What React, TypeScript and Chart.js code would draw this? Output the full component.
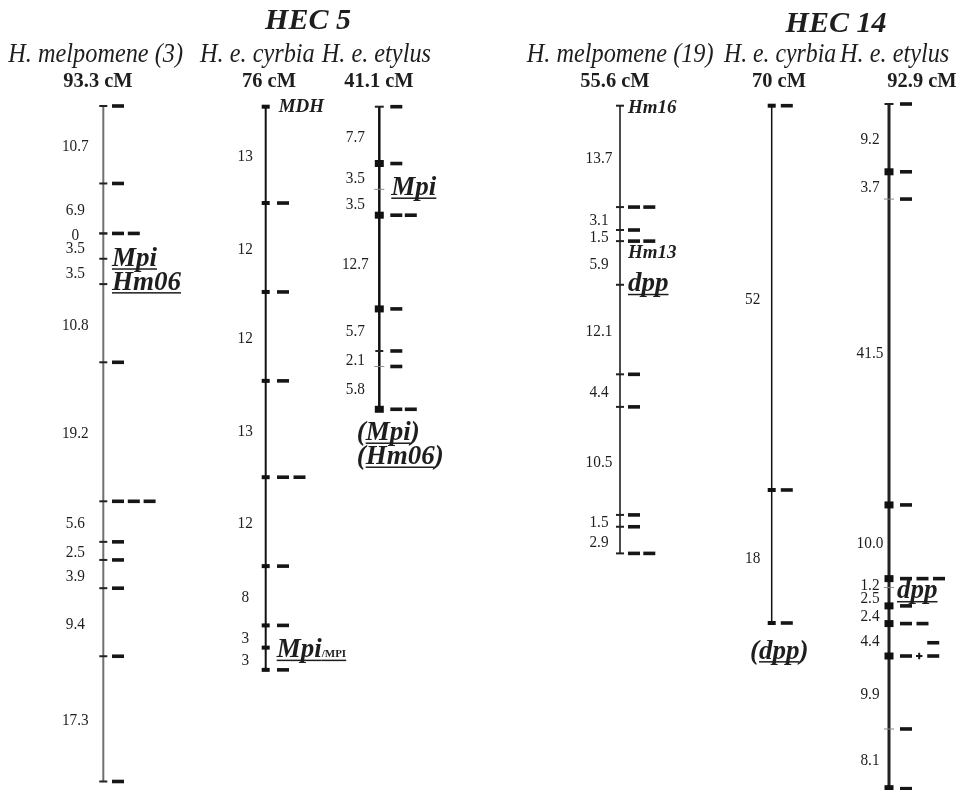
import React, { useEffect, useRef } from "react";
import { Chart, registerables } from "chart.js";

Chart.register(...registerables);

const CW = 965;
const CH = 790;
const SERIF = '"Liberation Serif", "Times New Roman", serif';

// ---------------- Data ----------------
const groupTitles = ["HEC 5", "HEC 14"];
const speciesNames = ["H. melpomene (3)", "H. e. cyrbia", "H. e. etylus", "H. melpomene (19)", "H. e. cyrbia", "H. e. etylus"];
const mapLengths = ["93.3 cM", "76 cM", "41.1 cM", "55.6 cM", "70 cM", "92.9 cM"];

// HEC 5 — H. melpomene (3)
const mel3Pos = [0, 10.7, 17.6, 17.6, 21.1, 24.6, 35.4, 54.6, 60.2, 62.7, 66.6, 76.0, 93.3];
const mel3Gaps = ["10.7", "6.9", "0", "3.5", "3.5", "10.8", "19.2", "5.6", "2.5", "3.9", "9.4", "17.3"];
const mel3Dashes = [1, 1, 2, 0, 0, 0, 1, 3, 1, 1, 1, 1, 1];
const mel3Nodes = ["tick", "tick", "tick", "tick", "tick", "tick", "tick", "tick", "tick", "tick", "tick", "tick", "tick"];

// HEC 5 — H. e. cyrbia
const cyr5Pos = [0, 13, 25, 37, 50, 62, 70, 73, 76];
const cyr5Gaps = ["13", "12", "12", "13", "12", "8", "3", "3"];
const cyr5Dashes = [0, 1, 1, 1, 2, 1, 1, 0, 1];
const cyr5Nodes = ["sq", "sq", "sq", "sq", "sq", "sq", "sq", "sq", "sq"];

// HEC 5 — H. e. etylus
const ety5Pos = [0, 7.7, 11.2, 14.7, 27.4, 33.1, 35.2, 41.0];
const ety5Gaps = ["7.7", "3.5", "3.5", "12.7", "5.7", "2.1", "5.8"];
const ety5Dashes = [1, 1, 0, 2, 1, 1, 1, 2];
const ety5Nodes = ["cap", "SQ", "thin", "SQ", "SQ", "tick", "thin", "SQ"];

// HEC 14 — H. melpomene (19) (marker positions as drawn)
const mel19Pos = [0, 13.7, 16.8, 18.3, 24.2, 36.3, 40.7, 55.3, 56.9, 60.5];
const mel19Gaps = ["13.7", "3.1", "1.5", "5.9", "12.1", "4.4", "10.5", "1.5", "2.9"];
const mel19Dashes = [0, 2, 1, 2, 0, 1, 1, 1, 1, 2];
const mel19Nodes = ["tick", "tick", "tick", "tick", "tick", "tick", "tick", "tick", "tick", "tick"];

// HEC 14 — H. e. cyrbia
const cyr14Pos = [0, 52, 70];
const cyr14Gaps = ["52", "18"];
const cyr14Dashes = [1, 1, 1];
const cyr14Nodes = ["sq", "sq", "sq"];

// HEC 14 — H. e. etylus
const ety14Pos = [0, 9.2, 12.9, 54.4, 64.4, 65.6, 68.1, 70.5, 74.9, 84.8, 92.9];
const ety14Gaps = ["9.2", "3.7", "41.5", "10.0", "1.2", "2.5", "2.4", "4.4", "9.9", "8.1"];
const ety14Dashes = [1, 1, 1, 1, 3, 0, 1, 2, 1, 1, 1];
const ety14Nodes = ["cap", "SQ", "thin", "SQ", "SQ", "thin", "SQ", "SQ", "SQ", "thin", "SQ"];
const ety14Extra = [
  { cM: 74.9, slot: 0.8, kind: "plus" },
  { cM: 74.9, slot: 1.65, kind: "dash" },
  { cM: 73.1, slot: 1.65, kind: "dash" },
];

// ---------------- Styles / layout ----------------
const BIG = `bold italic 27px ${SERIF}`;
const MID = `bold italic 19px ${SERIF}`;
const SMALL = `bold 11px ${SERIF}`;

const NODE: Record<string, { r: number; w: number; c: string }> = {
  tick: { r: 4, w: 2, c: "#222" },
  cap: { r: 4.5, w: 2, c: "#222" },
  thin: { r: 5, w: 1, c: "#8a8a8a" },
  sq: { r: 4, w: 4, c: "#111" },
  SQ: { r: 4.5, w: 7, c: "#111" },
};

type Part = { text: string; font: string; ul?: boolean };
type Name = { at: number; parts: Part[]; dx: number; dy: number };

const chroms = [
  {
    pos: mel3Pos, gaps: mel3Gaps, dashes: mel3Dashes, nodes: mel3Nodes,
    x: 103.3, top: 106.0, pxPerCM: 7.24, line: "#707070", lw: 2, gapX: 28, dash0: 14.7, pitch: 15.8,
    names: [
      { at: 4, parts: [{ text: "Mpi", font: BIG, ul: true }], dx: 8.7, dy: 7 },
      { at: 5, parts: [{ text: "Hm06", font: BIG, ul: true }], dx: 8.7, dy: 5.5 },
    ] as Name[],
    extra: [] as any[],
  },
  {
    pos: cyr5Pos, gaps: cyr5Gaps, dashes: cyr5Dashes, nodes: cyr5Nodes,
    x: 265.7, top: 106.7, pxPerCM: 7.41, line: "#111", lw: 2, gapX: 20.5, dash0: 17.3, pitch: 16.5,
    names: [
      { at: 0, parts: [{ text: "MDH", font: MID }], dx: 13, dy: 5 },
      { at: 7, parts: [{ text: "Mpi", font: BIG, ul: true }, { text: "/MPI", font: SMALL, ul: true }], dx: 11, dy: 9.5 },
    ] as Name[],
    extra: [] as any[],
  },
  {
    pos: ety5Pos, gaps: ety5Gaps, dashes: ety5Dashes, nodes: ety5Nodes,
    x: 379.3, top: 106.7, pxPerCM: 7.38, line: "#111", lw: 2.5, gapX: 24, dash0: 17, pitch: 14.5,
    names: [
      { at: 2, parts: [{ text: "Mpi", font: BIG, ul: true }], dx: 12, dy: 5.6 },
      { at: 7, parts: [{ text: "(", font: BIG }, { text: "Mpi", font: BIG, ul: true }, { text: ")", font: BIG }], dx: -22.6, dy: 30.7 },
      { at: 7, parts: [{ text: "(", font: BIG }, { text: "Hm06", font: BIG, ul: true }, { text: ")", font: BIG }], dx: -22.6, dy: 54.7 },
    ] as Name[],
    extra: [] as any[],
  },
  {
    pos: mel19Pos, gaps: mel19Gaps, dashes: mel19Dashes, nodes: mel19Nodes,
    x: 620, top: 105.7, pxPerCM: 7.4, line: "#111", lw: 1.5, gapX: 21, dash0: 14, pitch: 15.3,
    names: [
      { at: 0, parts: [{ text: "Hm16", font: MID }], dx: 8, dy: 7.5 },
      { at: 3, parts: [{ text: "Hm13", font: MID }], dx: 8, dy: 17 },
      { at: 4, parts: [{ text: "dpp", font: BIG, ul: true }], dx: 8, dy: 6.5 },
    ] as Name[],
    extra: [] as any[],
  },
  {
    pos: cyr14Pos, gaps: cyr14Gaps, dashes: cyr14Dashes, nodes: cyr14Nodes,
    x: 771.7, top: 105.7, pxPerCM: 7.39, line: "#111", lw: 1.5, gapX: 19, dash0: 15.1, pitch: 16,
    names: [
      { at: 2, parts: [{ text: "(", font: BIG }, { text: "dpp", font: BIG, ul: true }, { text: ")", font: BIG }], dx: -21.7, dy: 35.6 },
    ] as Name[],
    extra: [] as any[],
  },
  {
    pos: ety14Pos, gaps: ety14Gaps, dashes: ety14Dashes, nodes: ety14Nodes,
    x: 889, top: 104.0, pxPerCM: 7.37, line: "#222", lw: 3, gapX: 19, dash0: 17, pitch: 16.5,
    names: [
      { at: 5, parts: [{ text: "dpp", font: BIG, ul: true }], dx: 8, dy: 11 },
    ] as Name[],
    extra: ety14Extra,
  },
];

const titleX = [308, 836];
const titleY = [29, 32];
const speciesX = [8.3, 200, 321.7, 526.7, 724, 840];
const speciesSX = [0.9, 0.9, 0.9, 0.9, 0.88, 0.9];
const speciesY = 62;
const lenX = [98, 269, 379, 615, 779, 922];
const lenY = 87;

function scaledText(ctx: CanvasRenderingContext2D, s: string, x: number, y: number, font: string, align: CanvasTextAlign, sx: number, baseline: CanvasTextBaseline = "alphabetic") {
  ctx.save();
  ctx.font = font;
  ctx.textAlign = align;
  ctx.textBaseline = baseline;
  ctx.translate(x, y);
  ctx.scale(sx, 1);
  ctx.fillText(s, 0, 0);
  ctx.restore();
}

function drawParts(ctx: CanvasRenderingContext2D, parts: Part[], x: number, y: number) {
  let cx = x;
  ctx.textAlign = "left";
  ctx.textBaseline = "alphabetic";
  for (const p of parts) {
    ctx.font = p.font;
    ctx.fillText(p.text, cx, y);
    const w = ctx.measureText(p.text).width;
    if (p.ul) ctx.fillRect(cx, y + 2.5, w, 1.5);
    cx += w;
  }
}

const textPlugin = {
  id: "mapText",
  afterDatasetsDraw(chart: any) {
    const ctx: CanvasRenderingContext2D = chart.ctx;
    const xs = chart.scales.x;
    ctx.save();
    ctx.fillStyle = "#1e1e1e";
    groupTitles.forEach((t, i) => scaledText(ctx, t, titleX[i], titleY[i], `bold italic 30px ${SERIF}`, "center", 1));
    speciesNames.forEach((t, i) => scaledText(ctx, t, speciesX[i], speciesY, `italic 27px ${SERIF}`, "left", speciesSX[i]));
    mapLengths.forEach((t, i) => scaledText(ctx, t, lenX[i], lenY, `bold 22px ${SERIF}`, "center", 0.93));

    chroms.forEach((c, ci) => {
      const ys = chart.scales["y" + ci];
      const lx = xs.getPixelForValue(c.x);
      c.gaps.forEach((g, k) => {
        const mid = (c.pos[k] + c.pos[k + 1]) / 2;
        scaledText(ctx, g, lx - c.gapX, ys.getPixelForValue(mid) + 2, `17px ${SERIF}`, "center", 0.9, "middle");
      });
      c.names.forEach((n) => {
        const y = ys.getPixelForValue(c.pos[n.at]) + n.dy;
        drawParts(ctx, n.parts, lx + n.dx, y);
      });
    });
    ctx.restore();
  },
};

function buildConfig() {
  const datasets: any[] = [];
  const scales: any = {
    x: { type: "linear", min: 0, max: CW, display: false, bounds: "data" },
  };
  chroms.forEach((c, ci) => {
    const yID = "y" + ci;
    scales[yID] = {
      type: "linear",
      reverse: true,
      display: false,
      min: -c.top / c.pxPerCM,
      max: (CH - c.top) / c.pxPerCM,
    };
    const last = c.pos[c.pos.length - 1];
    datasets.push({
      type: "line",
      data: [{ x: c.x, y: c.pos[0] }, { x: c.x, y: last }],
      borderColor: c.line,
      borderWidth: c.lw,
      pointRadius: 0,
      xAxisID: "x",
      yAxisID: yID,
      clip: false,
      order: 3,
    });
    datasets.push({
      type: "scatter",
      data: c.pos.map((p) => ({ x: c.x, y: p })),
      pointStyle: "line",
      pointRadius: c.nodes.map((k) => NODE[k].r),
      pointHoverRadius: c.nodes.map((k) => NODE[k].r),
      pointBorderWidth: c.nodes.map((k) => NODE[k].w),
      pointHoverBorderWidth: c.nodes.map((k) => NODE[k].w),
      pointBorderColor: c.nodes.map((k) => NODE[k].c),
      pointBackgroundColor: c.nodes.map((k) => NODE[k].c),
      xAxisID: "x",
      yAxisID: yID,
      clip: false,
      order: 2,
    });
    const dd: { x: number; y: number }[] = [];
    c.pos.forEach((p, i) => {
      for (let k = 0; k < c.dashes[i]; k++) dd.push({ x: c.x + c.dash0 + k * c.pitch, y: p });
    });
    const styles: string[] = dd.map(() => "line");
    const radii: number[] = dd.map(() => 6);
    const widths: number[] = dd.map(() => 3.6);
    c.extra.forEach((e: any) => {
      dd.push({ x: c.x + c.dash0 + e.slot * c.pitch, y: e.cM });
      styles.push(e.kind === "plus" ? "cross" : "line");
      radii.push(e.kind === "plus" ? 3.2 : 6);
      widths.push(e.kind === "plus" ? 2 : 3.6);
    });
    datasets.push({
      type: "scatter",
      data: dd,
      pointStyle: styles,
      pointRadius: radii,
      pointHoverRadius: radii,
      pointBorderWidth: widths,
      pointHoverBorderWidth: widths,
      pointBorderColor: "#161616",
      pointBackgroundColor: "#161616",
      xAxisID: "x",
      yAxisID: yID,
      clip: false,
      order: 1,
    });
  });
  return {
    type: "scatter",
    data: { datasets },
    options: {
      animation: false,
      responsive: false,
      events: [],
      layout: { padding: 0, autoPadding: false },
      plugins: { legend: { display: false }, tooltip: { enabled: false }, title: { display: false } },
      scales,
    },
    plugins: [textPlugin],
  };
}

export default function App() {
  const ref = useRef<HTMLCanvasElement | null>(null);
  useEffect(() => {
    document.body.style.margin = "0";
    const chart = new Chart(ref.current as HTMLCanvasElement, buildConfig() as any);
    return () => chart.destroy();
  }, []);
  return (
    <div style={{ width: CW, height: CH, background: "#fff" }}>
      <canvas ref={ref} width={CW} height={CH} style={{ display: "block", width: CW, height: CH }} />
    </div>
  );
}
